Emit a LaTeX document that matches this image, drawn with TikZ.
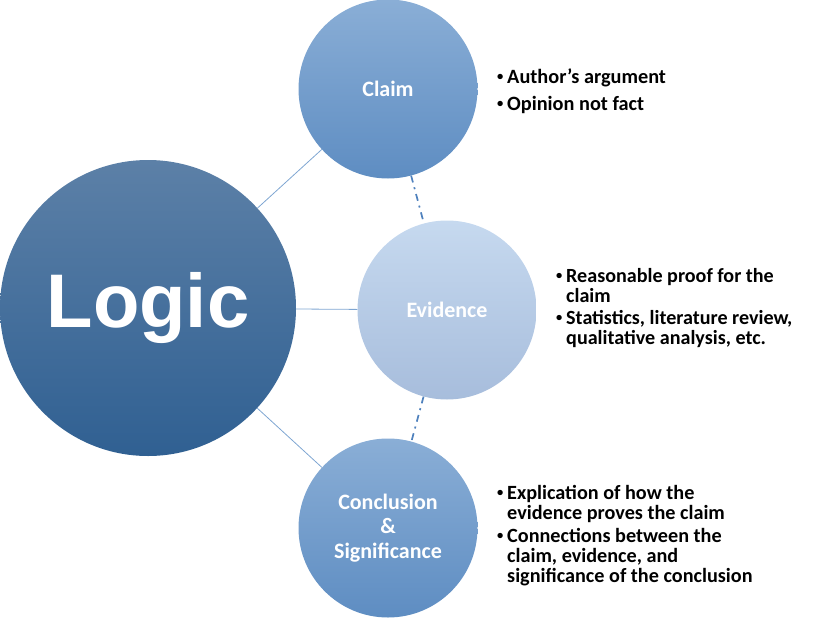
\documentclass[tikz,border=0pt]{standalone}
\usepackage{fontspec}
\setmainfont{Carlito}
\newfontfamily\arialfont{Liberation Sans}
\definecolor{logictop}{HTML}{5C80A7}
\definecolor{logicbot}{HTML}{306092}
\definecolor{midtop}{HTML}{8AAED6}
\definecolor{midbot}{HTML}{5E8DC2}
\definecolor{evtop}{HTML}{C6D9EF}
\definecolor{evbot}{HTML}{A7BDDC}
\definecolor{linkblue}{HTML}{7FA6D2}
\definecolor{dashblue}{HTML}{4F81BD}
\newcommand\bulitem{\makebox[10pt][l]{\raisebox{2.6pt}{\scalebox{0.62}{•}}}}
\begin{document}
\begin{tikzpicture}[x=1pt,y=-1pt,
  ball/.style={circle, inner sep=0pt, draw=none, text=white, align=center,
    font=\bfseries\fontsize{22}{24.5}\selectfont},
  bigball/.style={ball, minimum size=296pt, top color=logictop, bottom color=logicbot},
  midball/.style={ball, minimum size=179pt, top color=midtop, bottom color=midbot},
  evball/.style={ball, minimum size=179pt, top color=evtop, bottom color=evbot},
  link/.style={draw=linkblue, line width=0.8pt},
  dashlink/.style={draw=dashblue, line width=1.7pt, dash pattern=on 7pt off 5pt on 2pt off 5pt},
  bullets/.style={anchor=base west, inner sep=0pt, text=black},
]
\useasboundingbox (0,0) rectangle (822,624);

\node[bigball] (logic) at (148,308) {};
\node[midball] (claim) at (388,89) {Claim};
\node[evball] (evidence) at (447,310) {Evidence};
\node[midball] (conclusion) at (388,528) {Conclusion\\\&\\Significance};

\node[anchor=base, inner sep=0pt, text=white,
  font=\arialfont\bfseries\fontsize{76}{80}\selectfont] (logiclabel) at (148,327) {Logic};

\draw[link] (logic) -- (claim);
\draw[link] (logic) -- (evidence);
\draw[link] (logic) -- (conclusion);
\draw[dashlink] (claim) -- (evidence);
\draw[dashlink] (evidence) -- (conclusion);

\node[bullets, font=\bfseries\fontsize{20.3}{20}\selectfont] (claimtext) at (497,83.3) {%
\begin{tabular}[t]{@{}l@{}l@{}}
\bulitem & Author’s argument\\[6.7pt]
\bulitem & Opinion not fact
\end{tabular}};

\node[bullets, font=\bfseries\fontsize{20.1}{20}\selectfont] (evidencetext) at (556,282.3) {%
\begin{tabular}[t]{@{}l@{}l@{}}
\bulitem & Reasonable proof for the\\
 & claim\\[1.8pt]
\bulitem & Statistics, literature review,\\
 & qualitative analysis, etc.
\end{tabular}};

\node[bullets, font=\bfseries\fontsize{20.2}{20}\selectfont] (conclusiontext) at (497,499.3) {%
\begin{tabular}[t]{@{}l@{}l@{}}
\bulitem & Explication of how the\\
 & evidence proves the claim\\[2.4pt]
\bulitem & Connections between the\\
 & claim, evidence, and\\
 & significance of the conclusion
\end{tabular}};
\end{tikzpicture}
\end{document}
